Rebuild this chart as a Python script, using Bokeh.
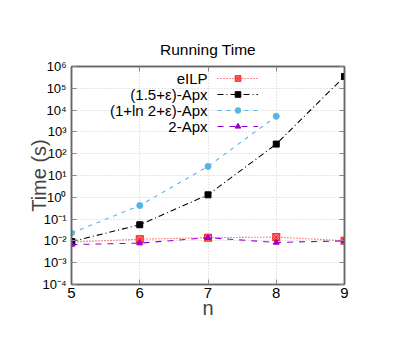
from bokeh.plotting import figure
from bokeh.models import (LogAxis, LinearAxis, FixedTicker, CustomJSTickFormatter,
                          Legend, LegendItem, Range1d, Label)
from bokeh.embed import file_html
from bokeh.resources import INLINE

n = [5, 6, 7, 8, 9]
eilp = [0.0088, 0.012, 0.014, 0.015, 0.0102]
apx15 = [0.0093, 0.055, 1.3, 275, 3.5e5]
n_ln2 = [5, 6, 7, 8]
apx_ln2 = [0.023, 0.42, 26, 5200]
apx2 = [0.0068, 0.0079, 0.014, 0.0085, 0.0100]

labels = ["eILP", "(1.5+\u03b5)-Apx", "(1+ln 2+\u03b5)-Apx", "2-Apx"]
y_ticks = [1e-4, 1e-3, 1e-2, 1e-1, 1e0, 1e1, 1e2, 1e3, 1e4, 1e5, 1e6]
x_ticks = [5, 6, 7, 8, 9]

FONT = "Liberation Sans"

p = figure(width=399, height=344, y_axis_type="log", output_backend="svg",
           toolbar_location=None, x_range=Range1d(5, 9), y_range=Range1d(1e-4, 1e6),
           min_border_left=71, min_border_right=55, min_border_top=66, min_border_bottom=60,
           frame_width=273, frame_height=218)

p.title.text = "Running Time"
p.title.align = "center"
p.title.text_font = FONT
p.title.text_font_size = "15.5px"
p.title.text_font_style = "normal"
p.title.text_color = "#000000"
p.title.standoff = 17

fmt = CustomJSTickFormatter(code="""
const sup = {'-':'\u207b','0':'\u2070','1':'\u00b9','2':'\u00b2','3':'\u00b3','4':'\u2074','5':'\u2075','6':'\u2076','7':'\u2077','8':'\u2078','9':'\u2079'};
const e = Math.round(Math.log10(tick)).toString();
let s = '10';
for (const c of e) s += sup[c];
return s;
""")
blank = CustomJSTickFormatter(code="return '';")

for ax in p.yaxis:
    ax.ticker = FixedTicker(ticks=y_ticks)
    ax.formatter = fmt
    ax.major_label_text_font = FONT
    ax.major_label_text_font_size = "13px"
    ax.axis_label = "Time (s)"
    ax.axis_label_text_font = FONT
    ax.axis_label_text_font_size = "20px"
    ax.axis_label_text_font_style = "normal"
    ax.axis_label_standoff = -11
for ax in p.xaxis:
    ax.ticker = FixedTicker(ticks=x_ticks)
    ax.major_label_text_font = FONT
    ax.major_label_text_font_size = "15px"
    ax.major_label_standoff = 3
    ax.axis_label = "n"
    ax.axis_label_text_font = FONT
    ax.axis_label_text_font_size = "20px"
    ax.axis_label_text_font_style = "normal"
    ax.axis_label_standoff = -4
for ax in list(p.xaxis) + list(p.yaxis):
    ax.major_tick_in = 5
    ax.major_tick_out = 0
    ax.minor_tick_in = 0
    ax.minor_tick_out = 0
    ax.axis_line_color = "#666666"
    ax.axis_line_width = 1.5
    ax.major_tick_line_color = "#888888"
    ax.major_label_text_color = "#000000"

ra = LogAxis(ticker=FixedTicker(ticks=y_ticks), formatter=blank,
             major_tick_in=5, major_tick_out=0, minor_tick_in=0, minor_tick_out=0,
             axis_line_color="#666666", axis_line_width=1.5, major_tick_line_color="#888888")
p.add_layout(ra, "right")
ta = LinearAxis(ticker=FixedTicker(ticks=x_ticks), formatter=blank,
                major_tick_in=5, major_tick_out=0, minor_tick_in=0, minor_tick_out=0,
                axis_line_color="#666666", axis_line_width=1.5, major_tick_line_color="#888888")
p.add_layout(ta, "above")

p.xgrid.ticker = FixedTicker(ticks=x_ticks)
p.ygrid.ticker = FixedTicker(ticks=y_ticks)
for g in [p.xgrid, p.ygrid]:
    g.grid_line_color = "#cccccc"
    g.grid_line_dash = "1 2"
    g.grid_line_width = 1
p.outline_line_color = "#666666"
p.outline_line_width = 1.5

red = "#ff2020"
black = "#000000"
cyan = "#56b4e9"
purple = "#9400d3"

l1 = p.line(n, eilp, color=red, line_dash="1 2", line_width=1.1)
m1 = p.scatter(n, eilp, marker="square_x", size=7, fill_color=red, line_color=red, fill_alpha=0.6)
l2 = p.line(n, apx15, color=black, line_dash="6 3 1 3", line_width=1.1)
m2 = p.scatter(n, apx15, marker="square", size=6, color=black)
l3 = p.line(n_ln2, apx_ln2, color=cyan, line_dash="4 5", line_width=1.1)
m3 = p.scatter(n_ln2, apx_ln2, marker="circle", size=6, color=cyan)
l4 = p.line(n, apx2, color=purple, line_dash="6 6", line_width=1.1)
m4 = p.scatter(n, apx2, marker="triangle", size=6, color=purple)

# legend: right-aligned labels, line samples to their right (gnuplot style)
for i, lab in enumerate(labels):
    p.add_layout(Label(x=136, y=206 - 16 * i, x_units="screen", y_units="screen",
                       text=lab, text_align="right", text_baseline="middle",
                       text_font=FONT, text_font_size="15px", text_color="#000000"))
leg_glyph = Legend(items=[LegendItem(label=" ", renderers=[l, m])
                          for l, m in [(l1, m1), (l2, m2), (l3, m3), (l4, m4)]],
                   location=(146, 151), background_fill_alpha=0, border_line_alpha=0,
                   label_text_font_size="9px",
                   glyph_width=41, glyph_height=14, spacing=2, padding=0, margin=0,
                   label_height=14, label_standoff=0)
p.add_layout(leg_glyph)

open("out.html", "w").write(file_html(p, INLINE))
